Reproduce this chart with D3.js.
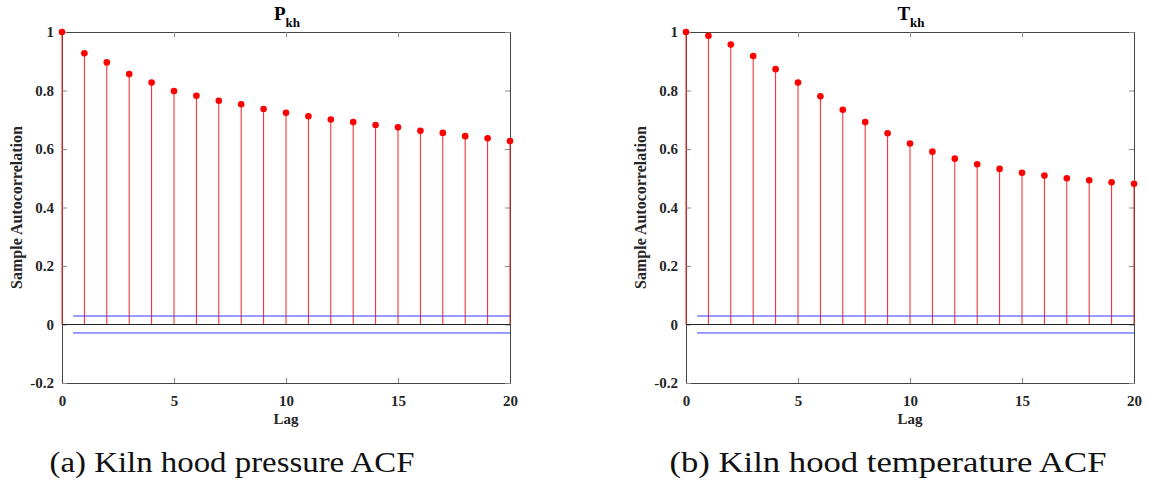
<!DOCTYPE html>
<html>
<head>
<meta charset="utf-8">
<script src="https://cdn.jsdelivr.net/npm/d3@7"></script>
<style>
  body { margin: 0; background: #fff; }
  svg { display: block; }
</style>
</head>
<body>
<svg id="chart" width="1149" height="481"></svg>
<script>
// Lags and sample autocorrelations
const lags = d3.range(0, 21);
const pressureAcf = [1, 0.927, 0.896, 0.856, 0.827, 0.798, 0.782, 0.765, 0.753, 0.737, 0.724,
  0.712, 0.701, 0.692, 0.682, 0.674, 0.662, 0.655, 0.644, 0.637, 0.627];
const temperatureAcf = [1, 0.987, 0.957, 0.918, 0.873, 0.827, 0.780, 0.734, 0.692, 0.654, 0.619,
  0.591, 0.567, 0.548, 0.532, 0.519, 0.509, 0.500, 0.493, 0.486, 0.481];
const confBound = 0.029;

const xTicks = [0, 5, 10, 15, 20];
const yTicks = [-0.2, 0, 0.2, 0.4, 0.6, 0.8, 1];
const titles = ["P", "T"];
const subscripts = ["kh", "kh"];
const captions = ["(a) Kiln hood pressure ACF", "(b) Kiln hood temperature ACF"];

const SERIF = "'Liberation Serif', 'Times New Roman', Times, serif";
const svg = d3.select("#chart");
const panelLeft = [62, 686];
const captionX = [232, 888];
const captionW = [365, 437];
const plotW = 448, plotTop = 32, plotBottom = 383;

function styleTicks(sel) {
  sel.selectAll(".tick text")
    .attr("font-family", null).attr("font-size", null)
    .style("font-family", SERIF).style("font-weight", "bold")
    .style("font-size", "15px").attr("fill", "#262626");
}

function drawPanel(i, values) {
  const x0 = panelLeft[i];
  const x = d3.scaleLinear().domain([0, 20]).range([x0, x0 + plotW]);
  const y = d3.scaleLinear().domain([-0.2, 1]).range([plotBottom, plotTop]);
  const g = svg.append("g");

  // axes with inward ticks, box on
  const fmt = d => String(+d.toFixed(1));
  g.append("g").attr("transform", `translate(0,${plotBottom})`)
    .call(d3.axisBottom(x).tickValues(xTicks).tickSizeInner(-5).tickSizeOuter(0).tickPadding(12))
    .call(styleTicks);
  g.append("g").attr("transform", `translate(0,${plotTop})`)
    .call(d3.axisTop(x).tickValues(xTicks).tickSizeInner(-5).tickSizeOuter(0).tickFormat(""));
  g.append("g").attr("transform", `translate(${x0},0)`)
    .call(d3.axisLeft(y).tickValues(yTicks).tickSizeInner(-5).tickSizeOuter(0).tickPadding(8).tickFormat(fmt))
    .call(styleTicks);
  g.append("g").attr("transform", `translate(${x0 + plotW},0)`)
    .call(d3.axisRight(y).tickValues(yTicks).tickSizeInner(-5).tickSizeOuter(0).tickFormat(""));
  g.selectAll(".tick line").attr("stroke", "#888");
  g.selectAll(".domain").attr("stroke", "#444");

  // stems
  g.selectAll(".stem").data(lags).enter().append("line")
    .attr("x1", d => x(d)).attr("x2", d => x(d))
    .attr("y1", y(0)).attr("y2", d => y(values[d]))
    .attr("stroke", "#ff2020").attr("stroke-width", 1);

  // confidence bounds
  [confBound, -confBound].forEach(b => {
    g.append("line").attr("x1", x(0.5)).attr("x2", x(20))
      .attr("y1", y(b)).attr("y2", y(b))
      .attr("stroke", "#3535ff").attr("stroke-width", 1);
  });

  // zero line
  g.append("line").attr("x1", x(0)).attr("x2", x(20))
    .attr("y1", y(0)).attr("y2", y(0))
    .attr("stroke", "#222").attr("stroke-width", 1);

  // markers
  g.selectAll(".dot").data(lags).enter().append("circle")
    .attr("cx", d => x(d)).attr("cy", d => y(values[d]))
    .attr("r", 3.3).attr("fill", "#ff0000");

  // title with subscript
  const t = g.append("text").attr("x", x(10) + 1).attr("y", 20)
    .attr("text-anchor", "middle")
    .style("font-family", SERIF).style("font-weight", "bold")
    .style("font-size", "19px").attr("fill", "#000");
  t.append("tspan").text(titles[i]);
  t.append("tspan").attr("dy", 7).style("font-size", "13px").text(subscripts[i]);

  // axis labels
  g.append("text").attr("x", x(10)).attr("y", 424).attr("text-anchor", "middle")
    .style("font-family", SERIF).style("font-weight", "bold")
    .style("font-size", "15px").attr("fill", "#262626").text("Lag");
  g.append("text")
    .attr("transform", `translate(${x0 - 40},${y(0.4)}) rotate(-90)`)
    .attr("text-anchor", "middle")
    .style("font-family", SERIF).style("font-weight", "bold")
    .style("font-size", "16px").attr("fill", "#262626").text("Sample Autocorrelation");

  // caption
  g.append("text").attr("x", captionX[i]).attr("y", 472)
    .attr("text-anchor", "middle")
    .style("font-family", SERIF).style("font-size", "30px")
    .attr("fill", "#111").attr("textLength", captionW[i]).attr("lengthAdjust", "spacingAndGlyphs")
    .text(captions[i]);
}

drawPanel(0, pressureAcf);
drawPanel(1, temperatureAcf);
</script>
</body>
</html>
